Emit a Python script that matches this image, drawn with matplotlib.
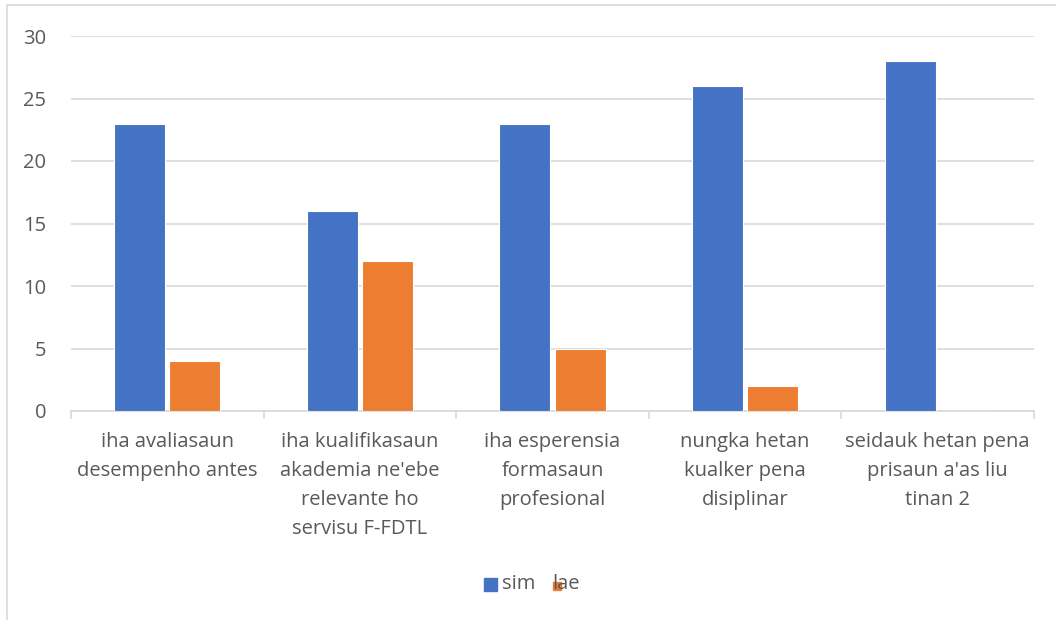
import matplotlib.pyplot as plt
import matplotlib.patches as mpatches
from matplotlib.lines import Line2D
import numpy as np

plt.rcParams['font.family'] = ['Open Sans', 'DejaVu Sans']

categories = [
    "iha avaliasaun\ndesempenho antes",
    "iha kualifikasaun\nakademia ne'ebe\nrelevante ho\nservisu F-FDTL",
    "iha esperensia\nformasaun\nprofesional",
    "nungka hetan\nkualker pena\ndisiplinar",
    "seidauk hetan pena\nprisaun a'as liu\ntinan 2",
]
sim = [23, 16, 23, 26, 28]
lae = [4, 12, 5, 2, 0]

blue = '#4472C4'
orange = '#ED7D31'
grid_c = '#D9D9D9'
text_c = '#595959'
fs = 14.5

W, H = 1056, 620
fig = plt.figure(figsize=(W / 100, H / 100), dpi=100)
ax = fig.add_axes([71 / W, 1 - 411 / H, (1034 - 71) / W, (411 - 36) / H])

x = np.arange(len(categories))
bw = 0.265
ax.bar(x - 0.143, sim, bw, color=blue, edgecolor='white', linewidth=0.8, zorder=3)
ax.bar(x + 0.143, lae, bw, color=orange, edgecolor='white', linewidth=0.8, zorder=3)

ax.set_xlim(-0.5, len(categories) - 0.5)
ax.set_ylim(0, 30)
ax.set_yticks(range(0, 31, 5))
ax.yaxis.grid(True, color=grid_c, linewidth=1.2, zorder=0)
ax.tick_params(axis='y', length=0, pad=18, labelsize=fs, labelcolor=text_c)

# category boundary ticks below the axis
ax.set_xticks(np.arange(-0.5, len(categories), 1.0))
ax.set_xticklabels([])
ax.tick_params(axis='x', which='major', length=6, color=grid_c, width=1.2, direction='out')
ax.set_xticks(x, minor=True)
ax.set_xticklabels(categories, minor=True, fontsize=fs, color=text_c, linespacing=1.6)
ax.tick_params(axis='x', which='minor', length=0, pad=15)

for s in ['top', 'right', 'left']:
    ax.spines[s].set_visible(False)
ax.spines['bottom'].set_color(grid_c)
ax.spines['bottom'].set_linewidth(1.2)

# outer chart border (left and top edges visible)
fig.add_artist(Line2D([7 / W, 7 / W], [0, 1 - 5 / H], transform=fig.transFigure, color=grid_c, linewidth=1.2))
fig.add_artist(Line2D([7 / W, 1], [1 - 5 / H, 1 - 5 / H], transform=fig.transFigure, color=grid_c, linewidth=1.2))

# legend
fig.add_artist(mpatches.Rectangle((484 / W, 1 - 591 / H), 13 / W, 13 / H, transform=fig.transFigure, color=blue))
fig.text(502 / W, 1 - 584 / H, "sim", fontsize=fs, color=text_c, va='center')
fig.text(552 / W, 1 - 584 / H, "lae", fontsize=fs, color=text_c, va='center')
fig.add_artist(mpatches.Rectangle((553 / W, 1 - 590 / H), 8 / W, 8 / H, transform=fig.transFigure, color=orange))

fig.savefig('out.png', dpi=100)
